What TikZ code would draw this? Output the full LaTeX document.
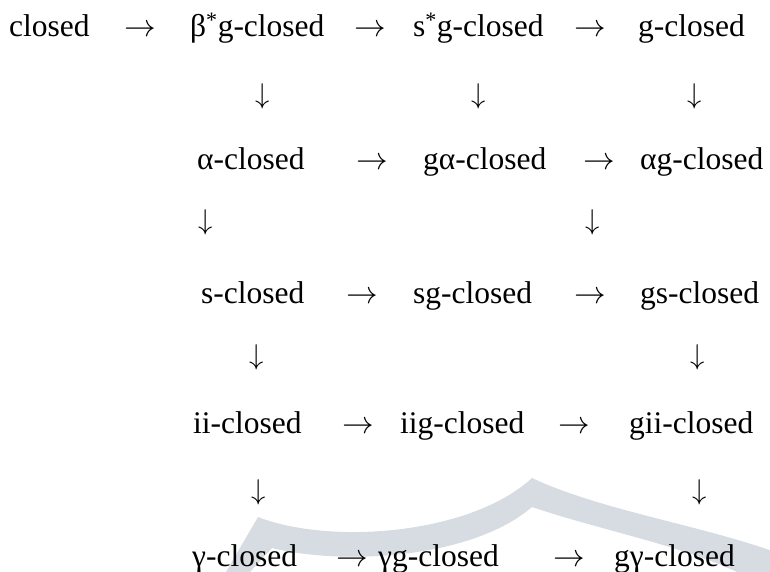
\documentclass[tikz,border=0pt]{standalone}
\usepackage{graphicx}
\usepackage{fontspec}
\setmainfont{Liberation Serif}
\definecolor{wm}{RGB}{214,220,226}
\newcommand{\rarr}{\scalebox{1.27}{$\rightarrow$}}
\newcommand{\darr}{\scalebox{1.15}{$\downarrow$}}
\begin{document}
\begin{tikzpicture}[x=1pt,y=-1pt,
  lbl/.style={anchor=base west, inner sep=0pt, font=\fontsize{31.5}{38}\selectfont},
  harr/.style={anchor=base, inner sep=0pt, font=\fontsize{24.88}{30}\selectfont},
  varr/.style={anchor=center, inner sep=0pt, font=\fontsize{24.88}{30}\selectfont}]
\useasboundingbox (0,0) rectangle (770,572);
% watermark
\fill[wm] (226,572) -- (258,517) .. controls (330,545) and (470,535) .. (532,478)
  .. controls (600,510) and (700,525) .. (775,552) -- (775,572) -- (737,572)
  .. controls (680,545) and (600,530) .. (532,507)
  .. controls (470,560) and (340,565) .. (272,548) -- (250,572) -- cycle;
% row 1
\node[lbl] (c)  at (9,37)   {closed};
\node[harr] (h11) at (140,37) {\rarr};
\node[lbl] (bg) at (190,37) {β\textsuperscript{*}g-closed};
\node[harr] (h12) at (370,37) {\rarr};
\node[lbl] (sgs) at (413,37) {s\textsuperscript{*}g-closed};
\node[harr] (h13) at (590,37) {\rarr};
\node[lbl] (g)  at (638,37) {g-closed};
\node[varr] (v11) at (263,96) {\darr};
\node[varr] (v12) at (479,96) {\darr};
\node[varr] (v13) at (695,96) {\darr};
% row 2
\node[lbl] (a)  at (197,170) {α-closed};
\node[harr] (h21) at (372,170) {\rarr};
\node[lbl] (ga) at (423,170) {gα-closed};
\node[harr] (h22) at (599,170) {\rarr};
\node[lbl] (ag) at (640,170) {αg-closed};
\node[varr] (v21) at (206,222) {\darr};
\node[varr] (v22) at (593,222) {\darr};
% row 3
\node[lbl] (s)  at (201,303) {s-closed};
\node[harr] (h31) at (362,303) {\rarr};
\node[lbl] (sg) at (413,303) {sg-closed};
\node[harr] (h32) at (590,303) {\rarr};
\node[lbl] (gs) at (640,303) {gs-closed};
\node[varr] (v31) at (257,357) {\darr};
\node[varr] (v32) at (698,357) {\darr};
% row 4
\node[lbl] (ii)  at (193,433) {ii-closed};
\node[harr] (h41) at (358,433) {\rarr};
\node[lbl] (iig) at (400,433) {iig-closed};
\node[harr] (h42) at (574,433) {\rarr};
\node[lbl] (gii) at (629,433) {gii-closed};
\node[varr] (v41) at (259,492) {\darr};
\node[varr] (v42) at (700,492) {\darr};
% row 5
\node[lbl] (y)  at (192,566) {γ-closed};
\node[harr] (h51) at (352,566) {\rarr};
\node[lbl] (yg) at (378,566) {γg-closed};
\node[harr] (h52) at (569,566) {\rarr};
\node[lbl] (gy) at (614,566) {gγ-closed};
\end{tikzpicture}
\end{document}
